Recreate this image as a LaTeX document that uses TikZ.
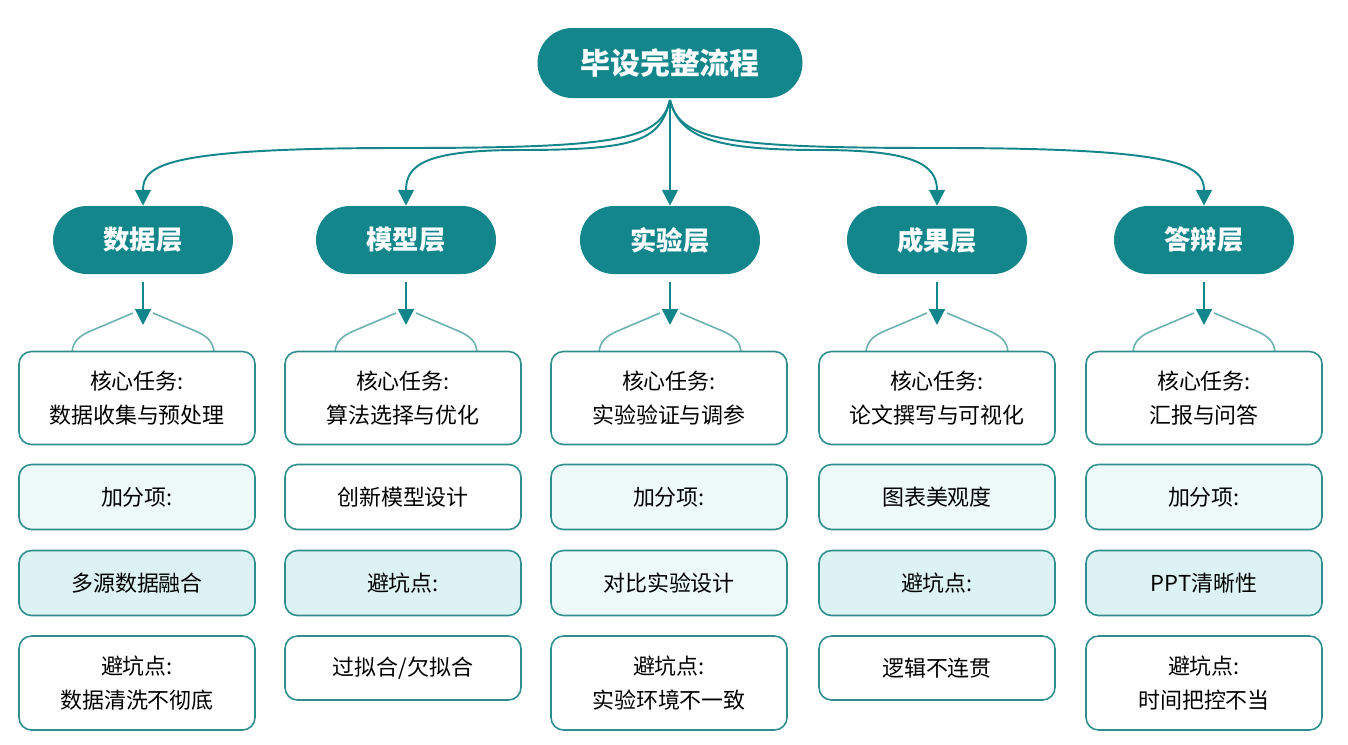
\documentclass[tikz,border=0pt]{standalone}
\usepackage{fontspec}
\setmainfont{Noto Sans CJK SC}
\usetikzlibrary{arrows.meta}
\definecolor{teal1}{HTML}{12868A}
\definecolor{edge1}{HTML}{2E8E8E}
\definecolor{fillA}{HTML}{EEF9F9}
\definecolor{fillB}{HTML}{DDF3F3}
\begin{document}
\begin{tikzpicture}[x=0.02cm,y=-0.02cm,
 head/.style={fill=teal1,text=white,font=\bfseries\fontsize{15}{18}\selectfont,minimum width=180*0.02cm,minimum height=68*0.02cm,rounded corners=0.68cm},
 top/.style={fill=teal1,text=white,font=\bfseries\fontsize{17}{20}\selectfont,minimum width=265*0.02cm,minimum height=70*0.02cm,rounded corners=0.7cm},
 box/.style={draw=edge1,line width=0.9pt,rounded corners=0.25cm,minimum width=236*0.02cm,align=center,font=\fontsize{12.5}{19}\selectfont,fill=white},
 arr/.style={draw=teal1,line width=1.1pt,-{Triangle[length=9pt,width=9pt]}},
 ln/.style={draw=edge1!70,line width=0.9pt}]
\useasboundingbox (0,0) rectangle (1348,744);
\fill[white] (0,0) rectangle (1348,744);
\node[top] (T) at (670,63) {毕设完整流程};
\foreach \i/\x/\t in {1/143/数据层,2/406/模型层,3/670/实验层,4/937/成果层,5/1204/答辩层}{
 \node[head] (L\i) at (\x,240) {\t};
 \coordinate (P\i) at (\x,325);
 \draw[arr] (L\i.south) ++(0,8) -- (P\i);
 \draw[ln] (\x-10,313) -- (\x-50,330) .. controls (\x-65,336) and (\x-70,342) .. (\x-71,352);
 \draw[ln] (\x+10,313) -- (\x+50,330) .. controls (\x+65,336) and (\x+70,342) .. (\x+71,352);
}
\coordinate (S) at (670,100);
\draw[arr] (S) -- (L3.north);
\draw[arr] (S) .. controls (660,140) and (620,148) .. (400,148) .. controls (165,148) and (143,165) .. (L1.north);
\draw[arr] (S) .. controls (660,140) and (640,150) .. (520,150) .. controls (425,150) and (406,165) .. (L2.north);
\draw[arr] (S) .. controls (680,140) and (720,150) .. (820,150) .. controls (915,150) and (937,165) .. (L4.north);
\draw[arr] (S) .. controls (680,140) and (720,148) .. (940,148) .. controls (1180,148) and (1204,165) .. (L5.north);
\newcommand\colboxes[9]{%
 \node[box,minimum height=93*0.02cm] (#1a) at (#2,398) {#3};
 \node[box,minimum height=65*0.02cm,fill=#5] (#1b) at (#2,497) {#4};
 \node[box,minimum height=65*0.02cm,fill=#7] (#1c) at (#2,583) {#6};
 \node[box,minimum height=#9*0.02cm] (#1d) at (#2,636+#9/2) {#8};
}
\colboxes{A}{137}{核心任务:\\数据收集与预处理}{加分项:}{fillA}{多源数据融合}{fillB}{避坑点:\\数据清洗不彻底}{94}
\colboxes{B}{403}{核心任务:\\算法选择与优化}{创新模型设计}{white}{避坑点:}{fillB}{过拟合/欠拟合}{64}
\colboxes{C}{669}{核心任务:\\实验验证与调参}{加分项:}{fillA}{对比实验设计}{fillA}{避坑点:\\实验环境不一致}{94}
\colboxes{D}{937}{核心任务:\\论文撰写与可视化}{图表美观度}{fillA}{避坑点:}{fillB}{逻辑不连贯}{64}
\colboxes{E}{1204}{核心任务:\\汇报与问答}{加分项:}{fillA}{PPT清晰性}{fillB}{避坑点:\\时间把控不当}{94}
\end{tikzpicture}
\end{document}
